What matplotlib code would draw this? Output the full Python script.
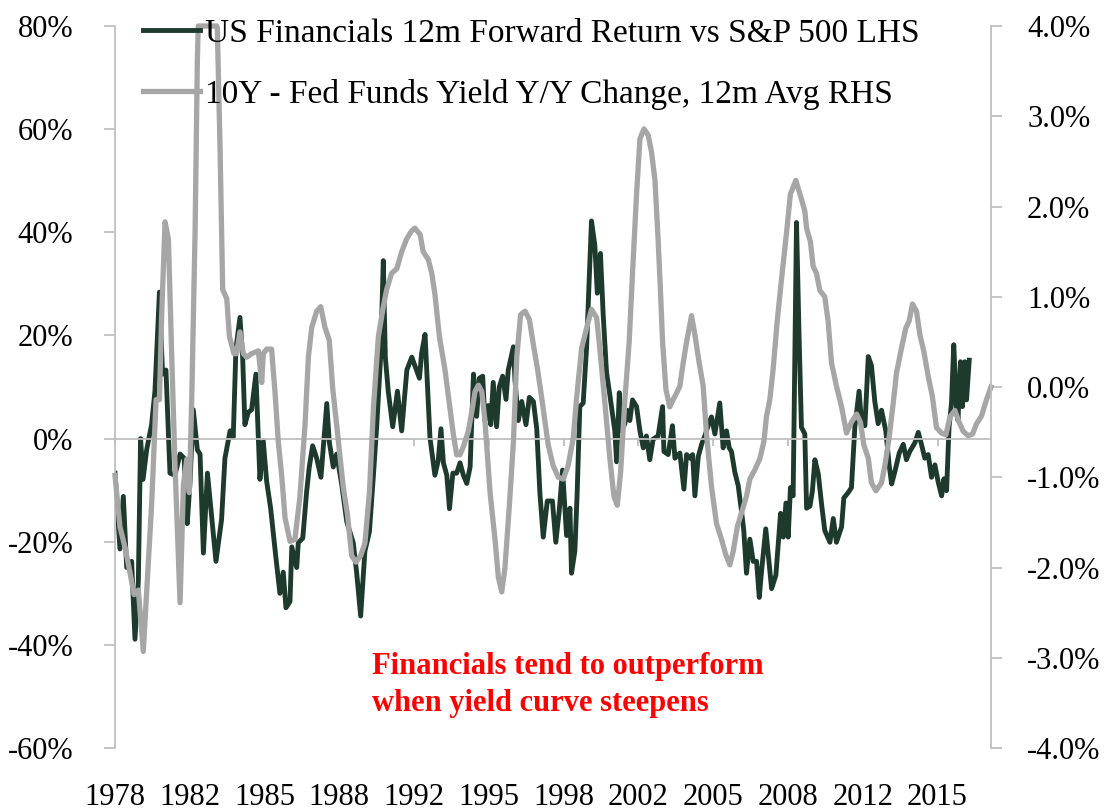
import matplotlib
matplotlib.use("Agg")
import matplotlib.pyplot as plt
from matplotlib.ticker import FuncFormatter, MultipleLocator

# US Financials 12m forward return vs S&P 500 (% , left axis)
fin_years = [1978.75, 1978.97, 1979.12, 1979.27, 1979.49, 1979.64, 1979.79, 1979.89, 1980.00, 1980.16,
             1980.38, 1980.53, 1980.73, 1980.87, 1981.02, 1981.20, 1981.42, 1981.65, 1981.83, 1981.97,
             1982.09, 1982.24, 1982.42, 1982.54, 1982.69, 1982.87, 1983.06, 1983.25, 1983.50, 1983.65,
             1983.88, 1984.02, 1984.14, 1984.32, 1984.44, 1984.54, 1984.69, 1984.84, 1985.03, 1985.21,
             1985.36, 1985.51, 1985.69, 1985.91, 1986.10, 1986.25, 1986.37, 1986.55, 1986.63, 1986.85,
             1986.92, 1987.12, 1987.29, 1987.41, 1987.56, 1987.74, 1987.93, 1988.04, 1988.19, 1988.30,
             1988.48, 1988.63, 1988.85, 1989.08, 1989.37, 1989.52, 1989.70, 1989.89, 1990.09, 1990.27,
             1990.42, 1990.59, 1990.71, 1990.80, 1990.93, 1991.13, 1991.34, 1991.53, 1991.76, 1991.98,
             1992.12, 1992.32, 1992.42, 1992.57, 1992.67, 1992.79, 1993.01, 1993.16, 1993.28, 1993.39,
             1993.54, 1993.66, 1993.81, 1993.98, 1994.13, 1994.28, 1994.43, 1994.58, 1994.73, 1994.87,
             1994.99, 1995.14, 1995.24, 1995.39, 1995.50, 1995.61, 1995.76, 1995.88, 1996.03, 1996.18,
             1996.28, 1996.51, 1996.58, 1996.73, 1996.88, 1997.07, 1997.22, 1997.40, 1997.55, 1997.69,
             1997.84, 1998.02, 1998.25, 1998.40, 1998.55, 1998.70, 1998.88, 1999.03, 1999.10, 1999.25,
             1999.35, 1999.47, 1999.62, 1999.77, 1999.99, 2000.14, 2000.25, 2000.39, 2000.51, 2000.66,
             2000.84, 2001.03, 2001.11, 2001.23, 2001.33, 2001.48, 2001.58, 2001.70, 2001.82, 2002.00,
             2002.15, 2002.30, 2002.44, 2002.59, 2002.74, 2002.96, 2003.16, 2003.22, 2003.41, 2003.60,
             2003.71, 2003.93, 2004.11, 2004.23, 2004.38, 2004.50, 2004.60, 2004.75, 2004.90, 2005.04,
             2005.19, 2005.34, 2005.49, 2005.71, 2005.86, 2006.01, 2006.13, 2006.23, 2006.38, 2006.53,
             2006.68, 2006.78, 2006.90, 2007.05, 2007.20, 2007.35, 2007.47, 2007.57, 2007.76, 2007.87,
             2008.02, 2008.21, 2008.42, 2008.54, 2008.66, 2008.76, 2008.86, 2008.98, 2009.13, 2009.25,
             2009.35, 2009.50, 2009.58, 2009.73, 2009.84, 2009.95, 2010.10, 2010.25, 2010.39, 2010.62,
             2010.77, 2010.91, 2011.14, 2011.24, 2011.43, 2011.58, 2011.73, 2011.92, 2012.03, 2012.18,
             2012.33, 2012.47, 2012.62, 2012.77, 2012.92, 2013.11, 2013.26, 2013.37, 2013.51, 2013.71,
             2013.89, 2014.03, 2014.18, 2014.41, 2014.56, 2014.70, 2014.85, 2015.00, 2015.15, 2015.30,
             2015.45, 2015.60, 2015.70, 2015.82, 2015.93, 2016.04, 2016.14, 2016.26, 2016.33, 2016.44,
             2016.53, 2016.63, 2016.71, 2016.83]
fin_ret = [-6.7, -21.4, -11.2, -25.0, -23.8, -38.9, -27.5, 0.0, -7.9, -2.2,
           2.7, 9.2, 28.4, 12.5, 13.3, -6.7, -7.1, -3.0, -3.8, -16.5,
           -8.7, 5.6, -2.2, -3.0, -22.2, -6.7, -15.3, -23.8, -15.7, -3.8,
           1.5, 0.2, 17.4, 23.5, 15.8, 2.7, 5.1, 5.6, 12.5, -7.9,
           -0.6, -8.3, -13.6, -22.6, -30.0, -25.9, -32.8, -31.6, -21.0, -25.0,
           -20.2, -19.3, -10.4, -5.5, -1.4, -3.8, -7.5, -1.4, 6.8, -0.6,
           -5.5, -3.0, -8.7, -16.1, -20.2, -25.9, -34.4, -21.8, -18.1, -7.1,
           2.7, 15.8, 34.5, 15.8, 9.2, 2.3, 9.2, 1.5, 13.3, 15.8,
           14.1, 11.7, 16.6, 20.2, 10.9, 0.2, -7.1, -4.2, 1.9, -4.7,
           -7.1, -13.6, -6.7, -6.7, -4.7, -7.1, -8.7, -5.5, 12.5, 4.3,
           11.7, 12.1, 3.5, 6.4, 2.7, 10.9, 2.3, 10.0, 12.1, 7.6,
           13.3, 17.8, 11.3, 3.5, 7.2, 2.7, 8.0, 7.2, 1.9, -10.5,
           -19.1, -12.1, -12.1, -20.1, -14.1, -6.1, -18.8, -13.5, -26.1, -21.8,
           -10.8, 6.2, 6.9, 17.5, 42.2, 37.5, 28.2, 35.9, 24.2, 12.9,
           7.5, 1.5, -4.5, 8.9, 1.5, 2.9, 5.5, 3.5, 7.5, 6.2,
           1.5, -1.8, 0.5, -4.1, -0.1, 0.5, 6.2, -2.5, -3.1, 2.5,
           -3.8, -2.8, -9.8, -3.1, -3.8, -3.1, -11.1, -3.5, -1.1, 0.5,
           2.5, 4.2, 0.9, 6.9, -1.8, 1.5, -1.8, -2.5, -6.5, -9.1,
           -14.1, -17.8, -26.1, -19.5, -23.8, -23.8, -30.8, -25.8, -17.5, -22.5,
           -29.1, -26.5, -14.5, -19.1, -12.5, -19.1, -9.5, -11.1, 41.9, 18.9,
           2.2, 0.9, -13.5, -13.1, -10.1, -4.1, -6.8, -12.8, -17.8, -20.1,
           -15.5, -20.1, -17.1, -11.5, -10.5, -9.5, 2.2, 9.2, 3.2, 2.5,
           15.9, 14.2, 7.2, 2.9, 5.5, 1.5, -5.1, -8.8, -6.5, -2.8,
           -1.1, -4.1, -2.5, -0.8, 1.2, -1.1, -3.8, -3.1, -7.5, -5.1,
           -8.5, -11.1, -7.8, -10.1, 2.2, 6.9, 18.2, 6.2, 3.5, 14.9,
           6.2, 14.9, 7.5, 15.2]

# 10Y - Fed Funds yield Y/Y change, 12m avg (%, right axis); capped at the 4% axis top in 1982-83
curve_years = [1978.75, 1978.97, 1979.20, 1979.42, 1979.60, 1979.79, 1980.01, 1980.19, 1980.38, 1980.58,
               1980.73, 1980.83, 1980.98, 1981.13, 1981.28, 1981.42, 1981.65, 1981.80, 1981.95, 1982.06,
               1982.17, 1982.32, 1982.42, 1982.46, 1983.28, 1983.31, 1983.43, 1983.55, 1983.73, 1983.85,
               1984.05, 1984.17, 1984.32, 1984.47, 1984.62, 1984.84, 1985.14, 1985.29, 1985.36, 1985.51,
               1985.73, 1985.88, 1986.03, 1986.18, 1986.33, 1986.55, 1986.77, 1986.99, 1987.22, 1987.37,
               1987.52, 1987.74, 1987.92, 1988.11, 1988.30, 1988.45, 1988.71, 1988.93, 1989.11, 1989.30,
               1989.49, 1989.70, 1989.89, 1990.09, 1990.27, 1990.49, 1990.71, 1990.86, 1991.08, 1991.31,
               1991.53, 1991.75, 1991.97, 1992.12, 1992.35, 1992.49, 1992.72, 1992.87, 1993.01, 1993.21,
               1993.46, 1993.68, 1993.83, 1993.98, 1994.13, 1994.28, 1994.50, 1994.65, 1994.80, 1994.95,
               1995.10, 1995.24, 1995.47, 1995.69, 1995.84, 1995.99, 1996.13, 1996.33, 1996.51, 1996.66,
               1996.83, 1997.03, 1997.22, 1997.40, 1997.59, 1997.76, 1998.06, 1998.28, 1998.51, 1998.73,
               1998.95, 1999.18, 1999.32, 1999.55, 1999.77, 1999.99, 2000.22, 2000.36, 2000.59, 2000.81,
               2000.99, 2001.14, 2001.29, 2001.48, 2001.67, 2001.82, 2002.00, 2002.15, 2002.33, 2002.52,
               2002.67, 2002.82, 2002.96, 2003.07, 2003.16, 2003.31, 2003.48, 2003.63, 2003.78, 2003.93,
               2004.08, 2004.23, 2004.45, 2004.60, 2004.79, 2004.97, 2005.12, 2005.34, 2005.56, 2005.79,
               2005.98, 2006.16, 2006.31, 2006.49, 2006.72, 2006.90, 2007.05, 2007.27, 2007.50, 2007.68,
               2007.79, 2007.94, 2008.09, 2008.27, 2008.46, 2008.69, 2008.86, 2009.10, 2009.28, 2009.50,
               2009.58, 2009.75, 2009.87, 2010.02, 2010.17, 2010.39, 2010.54, 2010.69, 2010.91, 2011.14,
               2011.36, 2011.58, 2011.81, 2011.98, 2012.13, 2012.33, 2012.47, 2012.67, 2012.92, 2013.07,
               2013.26, 2013.44, 2013.59, 2013.81, 2014.00, 2014.15, 2014.30, 2014.48, 2014.63, 2014.81,
               2015.00, 2015.19, 2015.37, 2015.59, 2015.79, 2015.97, 2016.19, 2016.38, 2016.56, 2016.78,
               2016.98, 2017.15, 2017.38, 2017.60, 2017.80]
curve_chg = [-0.98, -1.55, -1.78, -2.06, -2.30, -2.25, -2.93, -2.15, -1.31, -0.14,
             -0.14, 0.80, 1.83, 1.64, 0.33, -0.84, -2.39, -1.08, -0.80, -1.17,
             -0.14, 1.73, 3.61, 4.00, 4.00, 3.98, 2.67, 1.08, 0.98, 0.56,
             0.37, 0.37, 0.61, 0.37, 0.33, 0.37, 0.40, 0.05, 0.37, 0.42,
             0.42, -0.05, -0.61, -0.98, -1.45, -1.71, -1.69, -1.22, -0.42, 0.33,
             0.66, 0.84, 0.89, 0.66, 0.52, 0.00, -0.61, -1.12, -1.41, -1.87,
             -1.94, -1.87, -1.73, -1.17, -0.23, 0.56, 0.89, 1.08, 1.26, 1.31,
             1.50, 1.64, 1.73, 1.76, 1.69, 1.50, 1.41, 1.26, 1.03, 0.56,
             0.19, -0.23, -0.52, -0.75, -0.75, -0.66, -0.49, -0.28, -0.05, 0.02,
             -0.05, -0.37, -1.17, -1.69, -2.11, -2.27, -2.01, -1.31, -0.61, 0.33,
             0.80, 0.84, 0.75, 0.47, 0.19, -0.10, -0.64, -0.87, -1.00, -1.02,
             -0.87, -0.56, -0.14, 0.43, 0.65, 0.86, 0.77, 0.43, -0.18, -0.79,
             -1.21, -1.31, -0.94, -0.14, 0.50, 1.26, 2.14, 2.75, 2.86, 2.79,
             2.60, 2.29, 1.64, 1.04, 0.50, -0.03, -0.22, -0.14, -0.07, 0.01,
             0.27, 0.50, 0.79, 0.58, 0.27, 0.01, -0.53, -1.10, -1.51, -1.69,
             -1.86, -1.97, -1.82, -1.55, -1.36, -1.21, -1.02, -0.92, -0.79, -0.60,
             -0.33, -0.14, 0.20, 0.73, 1.19, 1.72, 2.14, 2.29, 2.14, 1.95,
             1.76, 1.61, 1.34, 1.26, 1.07, 1.00, 0.73, 0.27, 0.01, -0.22,
             -0.51, -0.39, -0.30, -0.39, -0.64, -0.79, -1.06, -1.15, -1.06, -0.87,
             -0.56, -0.18, 0.16, 0.43, 0.65, 0.73, 0.92, 0.84, 0.58, 0.39,
             0.12, -0.11, -0.45, -0.51, -0.53, -0.33, -0.26, -0.39, -0.49, -0.54,
             -0.52, -0.41, -0.32, -0.14, 0.00]

year_labels = ["1978", "1982", "1985", "1988", "1992", "1995",
               "1998", "2002", "2005", "2008", "2012", "2015"]
label_start = 1978.75   # first month of the series
label_step = 40 / 12    # a label every 40 months

DARK = "#1e3a2f"
GRAY = "#a6a6a6"
AXIS = "#bfbfbf"

plt.rcParams["font.family"] = ["Liberation Serif", "DejaVu Serif"]

fig = plt.figure(figsize=(11.07, 8.10), dpi=100)
ax = fig.add_axes([0.1039, 0.0765, 0.7913, 0.8914])
ax2 = ax.twinx()

l1, = ax.plot(fin_years, fin_ret, color=DARK, lw=3.5, solid_joinstyle="round")
l2, = ax2.plot(curve_years, curve_chg, color=GRAY, lw=3.8, solid_joinstyle="round", clip_on=False)

ax.set_xlim(1978.75, 2017.8)
ax.set_ylim(-60, 80)
ax2.set_ylim(-4, 4)

# spines
for s in ["top", "right"]:
    ax.spines[s].set_visible(False)
for s in ["top", "left", "bottom"]:
    ax2.spines[s].set_visible(False)
ax.spines["left"].set_color(AXIS)
ax.spines["left"].set_linewidth(1.3)
ax2.spines["right"].set_color(AXIS)
ax2.spines["right"].set_linewidth(1.3)
ax.spines["bottom"].set_position(("data", 0))
ax.spines["bottom"].set_color(AXIS)
ax.spines["bottom"].set_linewidth(1.3)

# y axes
ax.yaxis.set_major_locator(MultipleLocator(20))
ax.yaxis.set_major_formatter(FuncFormatter(lambda v, p: f"{v:.0f}%"))
ax.tick_params(axis="y", length=8, width=1.3, color=AXIS, pad=22, labelsize=22)
ax2.yaxis.set_major_locator(MultipleLocator(1))
ax2.yaxis.set_major_formatter(FuncFormatter(lambda v, p: f"{v:.1f}%"))
ax2.tick_params(axis="y", length=8, width=1.3, color=AXIS, pad=18, labelsize=22)

# x axis: ticks on the zero line, year labels at the bottom
tick_pos = [label_start + i * label_step for i in range(len(year_labels))]
ax.set_xticks(tick_pos)
ax.tick_params(axis="x", direction="out", length=5, width=1.3, color=AXIS, labelbottom=False)
sec = ax.secondary_xaxis("bottom")
sec.set_xticks(tick_pos, labels=year_labels)
sec.tick_params(length=0, pad=25, labelsize=22)
sec.spines["bottom"].set_visible(False)

ax2.legend([l1, l2],
           ["US Financials 12m Forward Return vs S&P 500 LHS",
            "10Y - Fed Funds Yield Y/Y Change, 12m Avg RHS"],
           loc="upper left", bbox_to_anchor=(143 / 1107, 1 - 18 / 810),
           bbox_transform=fig.transFigure, frameon=False, fontsize=24,
           handlelength=1.71, handletextpad=0.15, labelspacing=0.9,
           borderpad=0, borderaxespad=0)

fig.text(372 / 1107, 1 - 685 / 810,
         "Financials tend to outperform\nwhen yield curve steepens",
         color="#ff0000", fontsize=22, fontweight="bold",
         ha="left", va="center", linespacing=1.36)

fig.savefig("out.png", dpi=100)
